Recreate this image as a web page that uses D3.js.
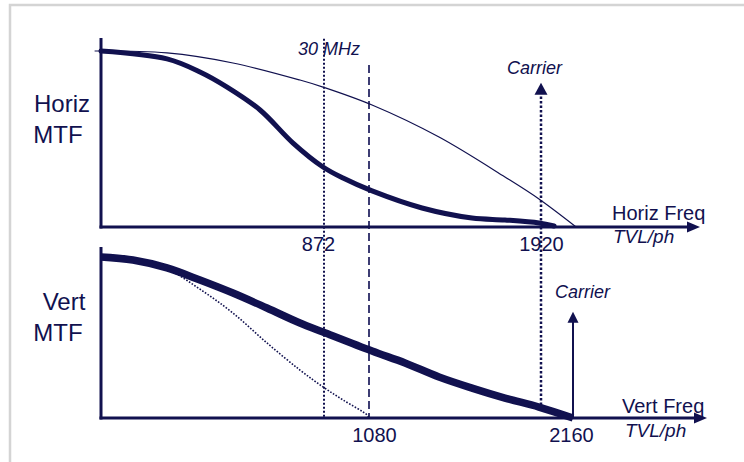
<!DOCTYPE html>
<html>
<head>
<meta charset="utf-8">
<script src="https://cdn.jsdelivr.net/npm/d3@7"></script>
<style>
  html, body { margin: 0; padding: 0; background: #fff; }
  svg { display: block; }
  text { font-family: "Liberation Sans", Arial, sans-serif; fill: #11114f; }
</style>
</head>
<body>
<svg id="chart" width="744" height="462"></svg>
<script>
// Frequency in TVL/ph, response as normalised MTF (0..1)
const horizTicks = [872, 1920];
const vertTicks = [1080, 2160];

// Horizontal: camera/lens MTF (thick) and ideal sampling envelope (thin)
const horizFreq    = [0, 258, 387, 493, 622, 751, 868, 960, 1095, 1339, 1583, 1744, 1910, 2018];
const horizMTF     = [1.0, 0.955, 0.881, 0.795, 0.665, 0.477, 0.341, 0.278, 0.205, 0.108, 0.051, 0.040, 0.023, 0.006];
const envFreq      = [-25, 258, 516, 778, 868, 1095, 1422, 1744, 1910, 2183];
const envMTF       = [1.0, 0.989, 0.932, 0.835, 0.795, 0.693, 0.511, 0.284, 0.159, 0.0];

// Vertical: progressive response (thick) and interlaced response (dotted)
const vertFreq     = [0, 125, 258, 387, 516, 649, 778, 868, 1095, 1256, 1422, 1583, 1744, 1910, 2160];
const vertMTF      = [1.0, 0.981, 0.932, 0.857, 0.776, 0.683, 0.590, 0.534, 0.416, 0.342, 0.255, 0.186, 0.124, 0.068, 0.0];
const interFreq    = [0, 125, 258, 387, 516, 649, 778, 868, 960, 1071, 1080];
const interMTF     = [1.0, 0.981, 0.925, 0.800, 0.652, 0.466, 0.298, 0.193, 0.112, 0.019, 0.0];

// Reference frequencies
const limit30MHz = 872;
const interlaceLimit = 1080;
const horizCarrier = 1920;
const vertCarrier = 2160;

const ink = "#11114f";
const svg = d3.select("#chart");

// Schematic (non-uniform) frequency axis shared by both panels
const x = d3.scaleLinear()
  .domain([0, 872, 1080, 1920, 2160, 3110])
  .range([101, 324, 369, 541, 573, 700]);
const yTop = d3.scaleLinear().domain([0, 1]).range([227, 51]);
const yBot = d3.scaleLinear().domain([0, 1]).range([418, 257]);

// Outer frame (top and left edges)
svg.append("path")
  .attr("d", "M10,462V5H744")
  .attr("fill", "none")
  .attr("stroke", "#d4d4d4")
  .attr("stroke-width", 2.5);

const line = (xs, ys, yScale) =>
  d3.line().curve(d3.curveCatmullRom.alpha(0.5))(xs.map((f, i) => [x(f), yScale(ys[i])]));

function arrowUp(xp, tipY, len, half) {
  return `M${xp},${tipY}L${xp - half},${tipY + len}L${xp + half},${tipY + len}Z`;
}
function arrowRight(tipX, yp, len, half) {
  return `M${tipX},${yp}L${tipX - len},${yp - half}L${tipX - len},${yp + half}Z`;
}

// ---- Reference verticals spanning both panels ----
svg.append("line")
  .attr("x1", x(limit30MHz)).attr("x2", x(limit30MHz))
  .attr("y1", yTop(1.07)).attr("y2", yBot(0))
  .attr("stroke", ink).attr("stroke-width", 2)
  .attr("stroke-dasharray", "2,2");

svg.append("line")
  .attr("x1", x(interlaceLimit)).attr("x2", x(interlaceLimit))
  .attr("y1", yTop(0.92)).attr("y2", yBot(0))
  .attr("stroke", "#3d3d73").attr("stroke-width", 2)
  .attr("stroke-dasharray", "8,4");

// Horizontal carrier: dotted arrow
svg.append("line")
  .attr("x1", x(horizCarrier)).attr("x2", x(horizCarrier))
  .attr("y1", yBot(0.08)).attr("y2", yTop(0.75))
  .attr("stroke", ink).attr("stroke-width", 2.5)
  .attr("stroke-dasharray", "2.5,2");
svg.append("path")
  .attr("d", arrowUp(x(horizCarrier), yTop(0.82), 12, 6.5))
  .attr("fill", ink);

// Vertical carrier: solid arrow
svg.append("line")
  .attr("x1", x(vertCarrier)).attr("x2", x(vertCarrier))
  .attr("y1", yBot(0)).attr("y2", yBot(0.6))
  .attr("stroke", ink).attr("stroke-width", 2);
svg.append("path")
  .attr("d", arrowUp(x(vertCarrier), yBot(0.66), 11, 5.5))
  .attr("fill", ink);

// ---- Axes ----
function drawAxes(yScale, yMax, endX) {
  svg.append("line")
    .attr("x1", x(0)).attr("x2", x(0))
    .attr("y1", yScale(yMax)).attr("y2", yScale(0) + 1.5)
    .attr("stroke", ink).attr("stroke-width", 3);
  svg.append("line")
    .attr("x1", x(0) - 1.5).attr("x2", endX - 8)
    .attr("y1", yScale(0)).attr("y2", yScale(0))
    .attr("stroke", ink).attr("stroke-width", 3);
  svg.append("path")
    .attr("d", arrowRight(endX, yScale(0), 13, 5.5))
    .attr("fill", ink);
}
drawAxes(yTop, 1.074, 700);
drawAxes(yBot, 1.062, 707);

// Tick labels
const labelShift = { 872: -6, 1080: 5, 1920: 0, 2160: -2 };
function tickLabels(ticks, yScale) {
  const axis = d3.axisBottom(x).tickValues(ticks).tickSize(0).tickFormat(d3.format("d"));
  const g = svg.append("g")
    .attr("transform", `translate(0,${yScale(0) + 7})`)
    .call(axis);
  g.select(".domain").remove();
  g.selectAll("text")
    .attr("dx", d => labelShift[d] || 0)
    .style("font-family", '"Liberation Sans", Arial, sans-serif')
    .style("font-size", "20px")
    .attr("fill", ink);
}
tickLabels(horizTicks, yTop);
tickLabels(vertTicks, yBot);

// ---- Curves ----
svg.append("path")
  .attr("d", line(envFreq, envMTF, yTop))
  .attr("fill", "none").attr("stroke", ink).attr("stroke-width", 1.2);

svg.append("path")
  .attr("d", line(horizFreq, horizMTF, yTop))
  .attr("fill", "none").attr("stroke", ink).attr("stroke-width", 5)
  .attr("stroke-linecap", "round");

svg.append("path")
  .attr("d", line(interFreq, interMTF, yBot))
  .attr("fill", "none").attr("stroke", ink).attr("stroke-width", 1.6)
  .attr("stroke-dasharray", "1.6,1.6");

svg.append("path")
  .attr("d", line(vertFreq, vertMTF, yBot))
  .attr("fill", "none").attr("stroke", ink).attr("stroke-width", 7.5);

// ---- Text ----
function label(txt, xp, yp, size, opts = {}) {
  svg.append("text")
    .attr("x", xp).attr("y", yp)
    .attr("text-anchor", opts.anchor || "start")
    .style("font-size", size + "px")
    .style("font-style", opts.italic ? "italic" : "normal")
    .text(txt);
}

label("Horiz", 62, 112, 24, { anchor: "middle" });
label("MTF", 58, 143, 24, { anchor: "middle" });
label("Vert", 64, 310, 24, { anchor: "middle" });
label("MTF", 58, 341, 24, { anchor: "middle" });

label("30 MHz", x(limit30MHz) - 26, 55, 18, { italic: true });
label("Carrier", x(horizCarrier) - 34, 74, 18, { italic: true });
label("Carrier", x(vertCarrier) - 18, 298, 18, { italic: true });

label("Horiz Freq", 612, 220, 20);
label("TVL/ph", 613, 243, 19, { italic: true });
label("Vert Freq", 622, 413, 20);
label("TVL/ph", 625, 437, 19, { italic: true });
</script>
</body>
</html>
